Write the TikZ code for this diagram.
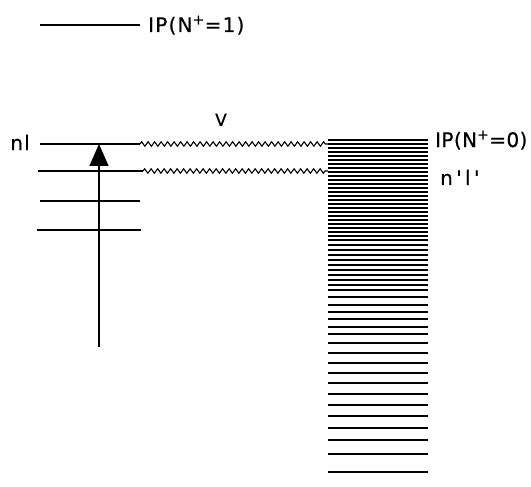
\documentclass[tikz,border=0pt]{standalone}
\usepackage{fontspec}
\setmainfont{DejaVu Sans}[LetterSpace=6, FakeBold=0.6]
\usetikzlibrary{arrows.meta,decorations.pathmorphing}
\begin{document}
\begin{tikzpicture}[x=1pt, y=-1pt, every node/.style={font=\fontsize{20}{20}\selectfont, inner sep=0pt}]
\tikzset{level/.style={line width=1.5pt}, contline/.style={line width=1.2pt},
  coupling/.style={line width=1.1pt, decorate, decoration={zigzag, amplitude=2.2pt, segment length=6.5pt}}}
\useasboundingbox (0,0) rectangle (531,487);
% limit of the excited ion
\coordinate (ipa) at (40,25); \coordinate (ipb) at (140,25);
\draw[level] (ipa) -- (ipb);
\node[anchor=base west] (iptop) at (148,32) {IP(N\textsuperscript{+}=1)};
% bound levels
\coordinate (nla) at (40,144); \coordinate (nlb) at (140,144);
\coordinate (lvtwoa) at (38,171); \coordinate (lvtwob) at (143,171);
\coordinate (lvthreea) at (40,201); \coordinate (lvthreeb) at (140,201);
\coordinate (lvfoura) at (37,230); \coordinate (lvfourb) at (141,230);
\draw[level] (nla) -- (nlb); \draw[level] (lvtwoa) -- (lvtwob);
\draw[level] (lvthreea) -- (lvthreeb); \draw[level] (lvfoura) -- (lvfourb);
\node[anchor=base east] (nl) at (30,150) {nl};
% excitation
\coordinate (exlow) at (99,347); \coordinate (exup) at (99,144);
\draw[line width=1.5pt, -{Triangle[length=22pt,width=19pt]}] (exlow) -- (exup);
% continuum
\foreach \y in {140,144,...,240} \draw[contline] (328,\y) -- (428,\y);
\foreach \y in {245,250,255,260,265,270,275,280,285,290,297,305,312,319,327,334,343,353,363,373,383,394,405,416,428,440,454,472} \draw[contline] (328,\y) -- (428,\y);
\coordinate (contone) at (328,144); \coordinate (conttwo) at (328,171);
% coupling
\draw[coupling] (nlb) -- (contone);
\draw[coupling] (lvtwob) -- (conttwo);
\node[anchor=base, font=\fontsize{17}{17}\selectfont] (vlab) at (221,126) {V};
\node[anchor=base west] (ipzero) at (435,147) {\addfontfeature{LetterSpace=2}IP(N\textsuperscript{+}=0)};
\node[anchor=base west] (nlp) at (440,185) {n\,\textquotesingle\,l\,\textquotesingle};
\end{tikzpicture}
\end{document}
